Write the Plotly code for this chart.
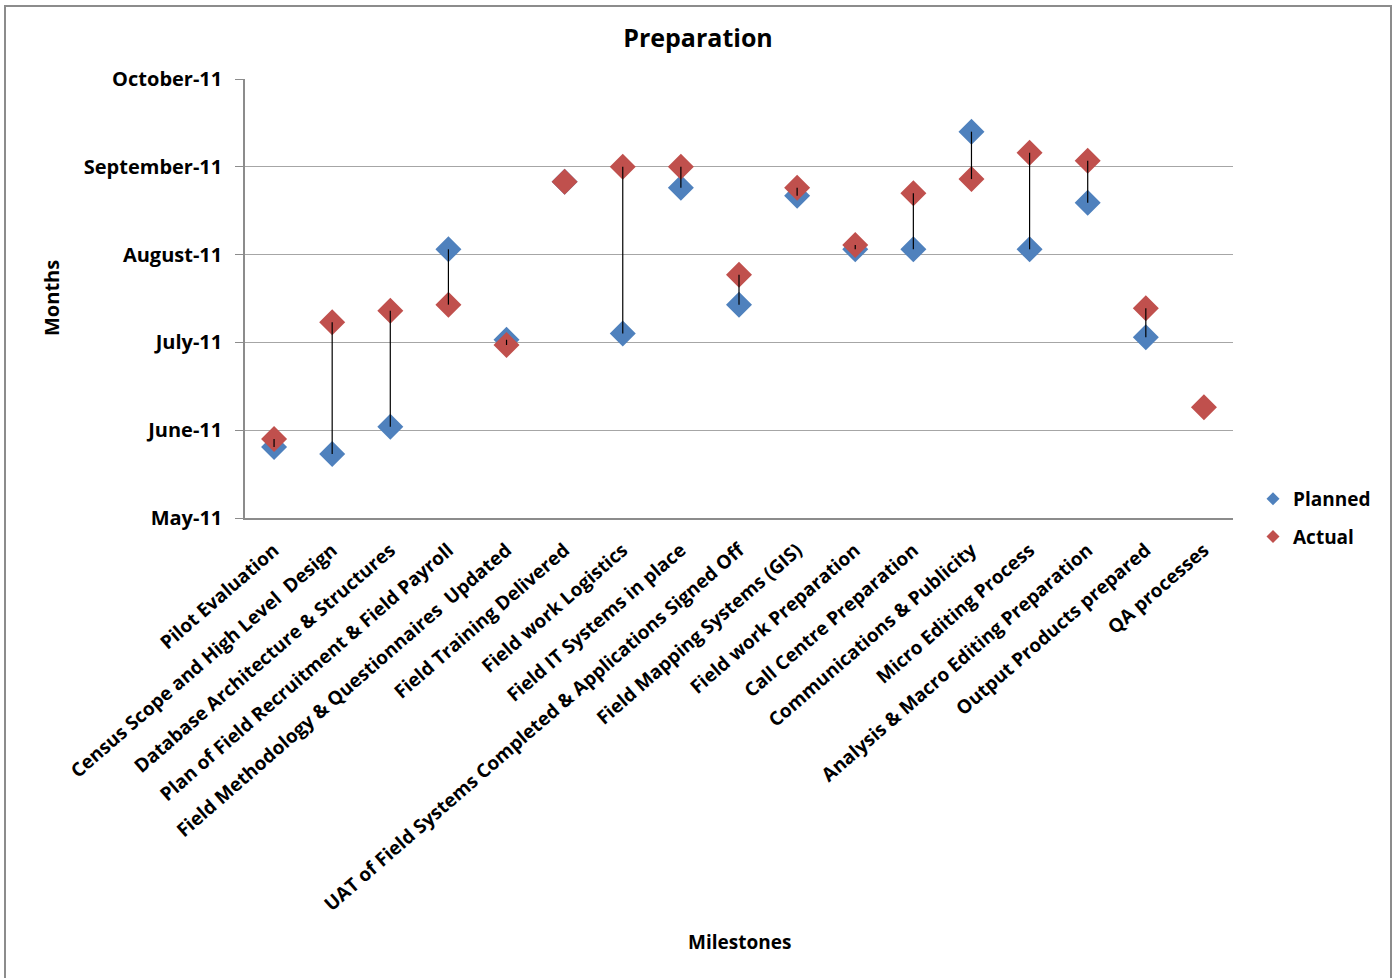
import plotly.graph_objects as go

# Milestone names (x categories)
milestones = [
    "Pilot Evaluation",
    "Census Scope and High Level  Design",
    "Database Architecture & Structures",
    "Plan of Field Recruitment & Field Payroll",
    "Field Methodology & Questionnaires  Updated",
    "Field Training Delivered",
    "Field work Logistics",
    "Field IT Systems in place",
    "UAT of Field Systems Completed & Applications Signed Off",
    "Field Mapping Systems (GIS)",
    "Field work Preparation",
    "Call Centre Preparation",
    "Communications & Publicity",
    "Micro Editing Process",
    "Analysis & Macro Editing Preparation",
    "Output Products prepared",
    "QA processes",
]

# Dates as months elapsed since 1 May 2011
planned = [0.81, 0.73, 1.04, 3.06, 2.03, 3.83, 2.10, 3.76, 2.43, 3.67,
           3.06, 3.06, 4.40, 3.06, 3.59, 2.06, None]
actual = [0.90, 2.23, 2.36, 2.43, 1.97, 3.83, 4.00, 4.00, 2.77, 3.76,
          3.11, 3.70, 3.86, 4.16, 4.07, 2.39, 1.26]

month_ticks = [0, 1, 2, 3, 4, 5]
month_labels = ["May-11", "June-11", "July-11", "August-11",
                "September-11", "October-11"]

BLUE = "#4F81BD"
RED = "#C0504D"
FONT = "Open Sans"

fig = go.Figure()

fig.add_trace(go.Scatter(
    x=milestones, y=planned, mode="markers", name="Planned",
    marker=dict(symbol="diamond", size=20, color=BLUE),
    showlegend=False, cliponaxis=False,
))
fig.add_trace(go.Scatter(
    x=milestones, y=actual, mode="markers", name="Actual",
    marker=dict(symbol="diamond", size=20, color=RED),
    showlegend=False, cliponaxis=False,
))

# High-low lines joining planned and actual dates
lx, ly = [], []
for m, p, a in zip(milestones, planned, actual):
    if p is not None and a is not None:
        lx += [m, m, None]
        ly += [p, a, None]
fig.add_trace(go.Scatter(
    x=lx, y=ly, mode="lines", line=dict(color="black", width=1.2),
    showlegend=False, hoverinfo="skip",
))

# Legend entries
fig.add_trace(go.Scatter(
    x=[None], y=[None], mode="markers", name="<b>Planned</b>", legendgroup="p",
    marker=dict(symbol="diamond", size=10, color=BLUE),
))
fig.add_trace(go.Scatter(
    x=[None], y=[None], mode="markers", name="<b>Actual</b>", legendgroup="a",
    marker=dict(symbol="diamond", size=10, color=RED),
))

L, R, T, B = 245, 164, 79, 460
W, H = 1397, 978
pw, ph = W - L - R, H - T - B

def px_x(x):
    return (x - L) / pw

def px_y(y):
    return (H - B - y) / ph

fig.update_layout(
    width=W, height=H,
    margin=dict(l=L, r=R, t=T, b=B, autoexpand=False),
    paper_bgcolor="white", plot_bgcolor="white",
    font=dict(family=FONT, size=17, color="black"),
    title=dict(text="<b>Preparation</b>", x=px_x(698), xref="paper",
               xanchor="center", y=1 - 38 / H, yanchor="middle",
               font=dict(size=25, family=FONT)),
    xaxis=dict(
        type="category", categoryorder="array", categoryarray=milestones,
        range=[-0.5, len(milestones) - 0.5],
        tickangle=-41, showgrid=False, ticks="",
        showline=True, linecolor="#8c8c8c", linewidth=1.5,
        tickfont=dict(size=19, family=FONT),
        tickprefix="<b>", ticksuffix="</b>",
        ticklabelstandoff=12,
        automargin=False,
    ),
    yaxis=dict(
        range=[0, 5], tickvals=month_ticks,
        ticktext=["<b>%s</b>" % t for t in month_labels],
        showgrid=True, gridcolor="#a6a6a6", gridwidth=1,
        showline=True, linecolor="#8c8c8c", linewidth=1.5,
        ticks="outside", ticklen=8, tickcolor="#8c8c8c",
        tickfont=dict(size=20, family=FONT),
        ticklabelstandoff=9,
        zeroline=False, automargin=False,
    ),
    legend=dict(
        x=px_x(1253), y=px_y(480), xanchor="left", yanchor="top",
        font=dict(size=19, family=FONT), tracegroupgap=10,
        bgcolor="rgba(0,0,0,0)", itemwidth=30,
    ),
    annotations=[
        dict(text="<b>Months</b>", textangle=-90, x=px_x(51), y=px_y(298),
             xref="paper", yref="paper", xanchor="center", yanchor="middle",
             showarrow=False, font=dict(size=20, family=FONT)),
        dict(text="<b>Milestones</b>", x=px_x(739), y=px_y(942),
             xref="paper", yref="paper", xanchor="center", yanchor="middle",
             showarrow=False, font=dict(size=19, family=FONT)),
    ],
    shapes=[
        dict(type="rect", xref="paper", yref="paper",
             x0=px_x(5), x1=px_x(1391), y0=px_y(990), y1=px_y(6),
             line=dict(color="#8c8c8c", width=2), fillcolor="rgba(0,0,0,0)",
             layer="below"),
    ],
)

fig.write_html("out.html")
